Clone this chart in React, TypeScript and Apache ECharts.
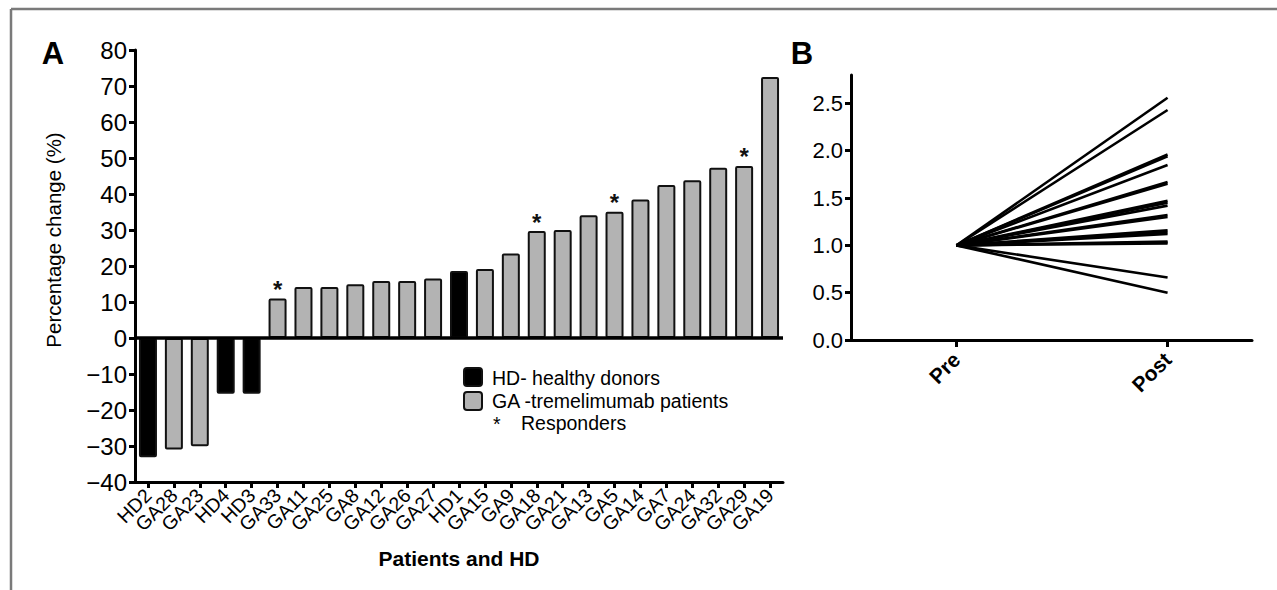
import React, { useEffect, useRef } from "react";
import * as echarts from "echarts";

const categories = [
  "HD2", "GA28", "GA23", "HD4", "HD3", "GA33", "GA11", "GA25", "GA8", "GA12", "GA26", "GA27", "HD1",
  "GA15", "GA9", "GA18", "GA21", "GA13", "GA5", "GA14", "GA7", "GA24", "GA32", "GA29", "GA19",
];
const percentChange = [
  -33.1, -31.0, -30.1, -15.5, -15.5, 11.0, 14.2, 14.2, 14.9, 15.8, 15.8, 16.5, 18.6,
  19.2, 23.5, 29.7, 30.0, 34.1, 35.1, 38.5, 42.5, 43.8, 47.3, 47.8, 72.5,
];
const healthyDonors = ["HD2", "HD4", "HD3", "HD1"];
const responders = ["GA33", "GA18", "GA5", "GA29"];
const yTicksA = [-40, -30, -20, -10, 0, 10, 20, 30, 40, 50, 60, 70, 80];

const timepoints = ["Pre", "Post"];
const preValue = 1.0;
const postValues = [
  2.56, 2.43, 1.96, 1.94, 1.85, 1.67, 1.65, 1.47, 1.45, 1.42, 1.32, 1.3, 1.16, 1.14, 1.12, 1.04,
  1.03, 1.02, 0.66, 0.5,
];
const yTicksB = [0, 0.5, 1.0, 1.5, 2.0, 2.5];

const FONT = "'Liberation Sans', Arial, Helvetica, sans-serif";

export default function App() {
  const ref = useRef<HTMLDivElement>(null);
  useEffect(() => {
    if (!ref.current) return;
    const chart = echarts.init(ref.current, undefined, { renderer: "svg" });

    const barData = categories.map((c, i) => ({
      value: percentChange[i],
      itemStyle: {
        color: healthyDonors.includes(c) ? "#000000" : "#b3b3b3",
        borderColor: "#111111",
        borderWidth: 2,
        borderRadius: 1,
      },
      label: responders.includes(c)
        ? { show: true, formatter: "*", position: "top", distance: -3, fontSize: 24, fontWeight: "bold", color: "#111", fontFamily: FONT }
        : { show: false },
    }));

    const lineSeries = postValues.map((v, i) => ({
      type: "line",
      name: "p" + i,
      xAxisIndex: 1,
      yAxisIndex: 1,
      data: [
        [0, preValue],
        [1, v],
      ],
      symbol: "none",
      silent: true,
      lineStyle: { color: "#000", width: 2.6 },
    }));

    const axisLine = { show: true, onZero: false, lineStyle: { color: "#000", width: 3 } };

    chart.setOption({
      animation: false,
      backgroundColor: "#ffffff",
      textStyle: { fontFamily: FONT },
      grid: [
        { left: 135, top: 50, width: 648, height: 432, containLabel: false },
        { left: 851, top: 75, width: 401, height: 265, containLabel: false },
      ],
      xAxis: [
        {
          type: "category",
          gridIndex: 0,
          data: categories,
          position: "bottom",
          axisLine,
          axisTick: { show: true, alignWithLabel: true, length: 6, lineStyle: { color: "#000", width: 3 } },
          axisLabel: { rotate: 45, interval: 0, fontSize: 19.5, color: "#000", margin: 10, fontFamily: FONT },
          name: "Patients and HD",
          nameLocation: "middle",
          nameGap: 66,
          nameTextStyle: { fontSize: 21, fontWeight: "bold", color: "#000", fontFamily: FONT },
        },
        {
          type: "value",
          gridIndex: 1,
          min: -0.5,
          max: 1.4,
          axisLine,
          splitLine: { show: false },
          axisTick: { show: true, customValues: [0, 1], length: 7, lineStyle: { color: "#000", width: 3 } },
          axisLabel: {
            customValues: [0, 1],
            formatter: (v: number) => timepoints[Math.round(v)] ?? "",
            rotate: 45,
            fontSize: 21,
            fontWeight: "bold",
            color: "#000",
            margin: 16,
            fontFamily: FONT,
          },
        },
      ],
      yAxis: [
        {
          type: "value",
          gridIndex: 0,
          min: -40,
          max: 80,
          interval: 10,
          axisLine,
          splitLine: { show: false },
          axisTick: { show: true, length: 6, lineStyle: { color: "#000", width: 3 } },
          axisLabel: {
            formatter: (v: number) => (yTicksA.includes(v) ? (v < 0 ? "\u2212" + Math.abs(v) : String(v)) : ""),
            fontSize: 24,
            color: "#000",
            margin: 8,
            fontFamily: FONT,
          },
        },
        {
          type: "value",
          gridIndex: 1,
          min: 0,
          max: 2.8,
          axisLine,
          splitLine: { show: false },
          axisTick: { show: true, customValues: yTicksB, length: 6, lineStyle: { color: "#000", width: 3 } },
          axisLabel: {
            customValues: yTicksB,
            formatter: (v: number) => v.toFixed(1),
            fontSize: 22,
            color: "#000",
            margin: 8,
            fontFamily: FONT,
          },
        },
      ],
      series: [
        {
          type: "bar",
          xAxisIndex: 0,
          yAxisIndex: 0,
          data: barData,
          barWidth: 18,
          silent: true,
          markLine: {
            silent: true,
            symbol: ["none", "none"],
            label: { show: false },
            lineStyle: { color: "#000", width: 3.5, type: "solid" },
            data: [{ yAxis: 0 }],
          },
        },
        ...lineSeries,
      ],
      graphic: [
        { type: "line", shape: { x1: 11, y1: 9, x2: 1277, y2: 9 }, style: { stroke: "#7a7a7a", lineWidth: 2.5 } },
        { type: "line", shape: { x1: 11, y1: 9, x2: 11, y2: 590 }, style: { stroke: "#7a7a7a", lineWidth: 2.5 } },
        { type: "text", x: 53, y: 53, style: { text: "A", fontSize: 31, fontWeight: "bold", fill: "#000", fontFamily: FONT, textAlign: "center", textVerticalAlign: "middle" } },
        { type: "text", x: 802, y: 53, style: { text: "B", fontSize: 31, fontWeight: "bold", fill: "#000", fontFamily: FONT, textAlign: "center", textVerticalAlign: "middle" } },
        {
          type: "text",
          x: 53,
          y: 240,
          rotation: Math.PI / 2,
          style: { text: "Percentage change (%)", fontSize: 20.5, fill: "#000", fontFamily: FONT, textAlign: "center", textVerticalAlign: "middle" },
        },
        { type: "rect", shape: { x: 464, y: 368, width: 18, height: 18, r: 3 }, style: { fill: "#000", stroke: "#111", lineWidth: 2 } },
        { type: "rect", shape: { x: 464, y: 392, width: 18, height: 18, r: 3 }, style: { fill: "#b3b3b3", stroke: "#111", lineWidth: 2 } },
        { type: "text", x: 492, y: 378, style: { text: "HD- healthy donors", fontSize: 19.5, fill: "#000", fontFamily: FONT, textVerticalAlign: "middle" } },
        { type: "text", x: 492, y: 401, style: { text: "GA -tremelimumab patients", fontSize: 19.5, fill: "#000", fontFamily: FONT, textVerticalAlign: "middle" } },
        { type: "text", x: 493, y: 424, style: { text: "*", fontSize: 19.5, fill: "#000", fontFamily: FONT, textVerticalAlign: "middle" } },
        { type: "text", x: 521, y: 423, style: { text: "Responders", fontSize: 19.5, fill: "#000", fontFamily: FONT, textVerticalAlign: "middle" } },
      ],
    });
    return () => chart.dispose();
  }, []);
  return <div ref={ref} style={{ position: "absolute", left: 0, top: 0, width: 1277, height: 590 }} />;
}
